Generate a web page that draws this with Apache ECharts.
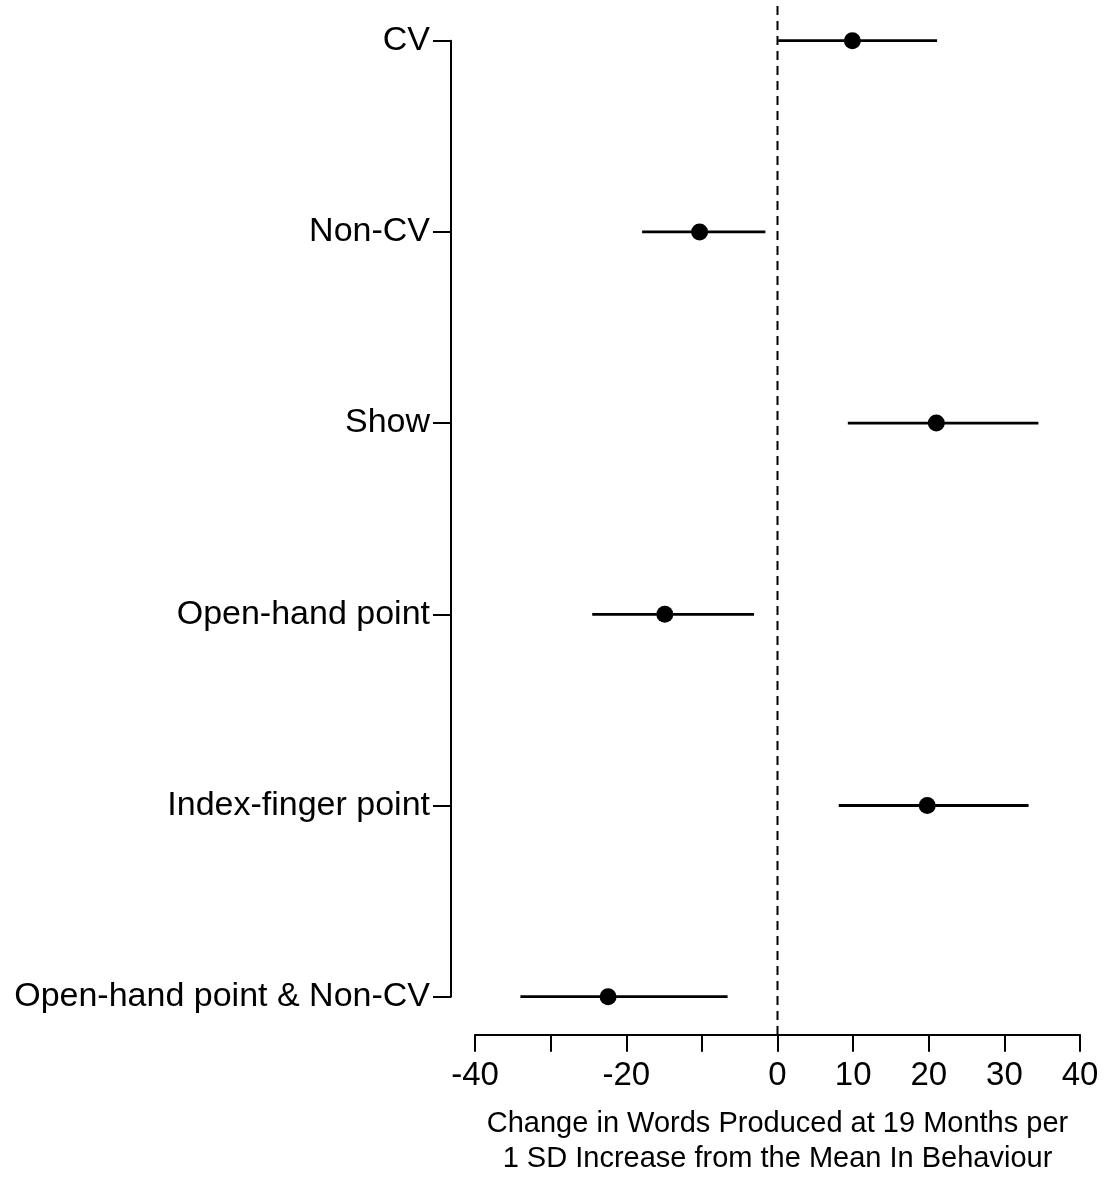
<!DOCTYPE html>
<html>
<head>
<meta charset="utf-8">
<script src="https://cdn.jsdelivr.net/npm/echarts@6/dist/echarts.min.js"></script>
<style>
html,body{margin:0;padding:0;background:#fff;}
#chart{width:1108px;height:1180px;}
</style>
</head>
<body>
<div id="chart"></div>
<script>
const categories = ['CV', 'Non-CV', 'Show', 'Open-hand point', 'Index-finger point', 'Open-hand point & Non-CV'];
const estimates = [9.9, -10.3, 21.0, -14.9, 19.8, -22.4];
const lowerCI = [0.1, -17.9, 9.3, -24.5, 8.1, -34.0];
const upperCI = [21.1, -1.6, 34.5, -3.1, 33.2, -6.6];
const xTickValues = [-40, -30, -20, -10, 0, 10, 20, 30, 40];
const xTickLabels = [-40, -20, 0, 10, 20, 30, 40];
const xTitle = 'Change in Words Produced at 19 Months per\n1 SD Increase from the Mean In Behaviour';

const FONT = "'Liberation Sans', Arial, sans-serif";
const chart = echarts.init(document.getElementById('chart'), null, {renderer: 'canvas'});

const ciData = categories.map((c, i) => [lowerCI[i], upperCI[i], c]);
const pointData = categories.map((c, i) => [estimates[i], c]);

chart.setOption({
  animation: false,
  backgroundColor: '#fff',
  grid: [
    {left: 475, right: 28, top: 40.7, bottom: 183.3, containLabel: false, outerBoundsMode: 'none'},
    {left: 475, right: 28, top: 0, bottom: 145, containLabel: false, outerBoundsMode: 'none'}
  ],
  xAxis: [
    {
      type: 'value', gridIndex: 0, min: -40, max: 40, interval: 10,
      position: 'bottom', offset: 38,
      axisLine: {show: true, onZero: false, lineStyle: {color: '#000', width: 2}},
      axisTick: {show: true, length: 17, lineStyle: {color: '#000', width: 2}, customValues: xTickValues},
      axisLabel: {show: true, margin: 25, fontSize: 33, color: '#000', fontFamily: FONT, customValues: xTickLabels},
      splitLine: {show: false},
      name: xTitle, nameLocation: 'middle', nameGap: 72,
      nameTextStyle: {fontSize: 29, color: '#000', fontFamily: FONT, lineHeight: 35, align: 'center'}
    },
    {type: 'value', gridIndex: 1, min: -40, max: 40, show: false}
  ],
  yAxis: [
    {
      type: 'category', gridIndex: 0, data: categories, inverse: true, boundaryGap: false,
      position: 'left', offset: 24,
      axisLine: {show: true, onZero: false, lineStyle: {color: '#000', width: 2}},
      axisTick: {show: true, length: 18, alignWithLabel: true, lineStyle: {color: '#000', width: 2}},
      axisLabel: {show: true, margin: 21, fontSize: 34, color: '#000', fontFamily: FONT, interval: 0, padding: [5, 0, 0, 0]},
      splitLine: {show: false}
    },
    {type: 'value', gridIndex: 1, min: 0, max: 1, show: false}
  ],
  series: [
    {
      type: 'line', xAxisIndex: 1, yAxisIndex: 1,
      data: [[0, 0], [0, 1]], symbol: 'none', silent: true,
      lineStyle: {color: '#000', width: 2, type: [9, 6]},
      z: 1
    },
    {
      type: 'custom', xAxisIndex: 0, yAxisIndex: 0,
      data: ciData,
      encode: {x: [0, 1], y: 2},
      renderItem: function (params, api) {
        const a = api.coord([api.value(0), api.value(2)]);
        const b = api.coord([api.value(1), api.value(2)]);
        return {
          type: 'line',
          shape: {x1: a[0], y1: a[1], x2: b[0], y2: b[1]},
          style: {stroke: '#000', lineWidth: 2.8}
        };
      },
      z: 2
    },
    {
      type: 'scatter', xAxisIndex: 0, yAxisIndex: 0,
      data: pointData, symbol: 'circle', symbolSize: 17,
      itemStyle: {color: '#000', opacity: 1},
      z: 3
    }
  ]
});
</script>
</body>
</html>
